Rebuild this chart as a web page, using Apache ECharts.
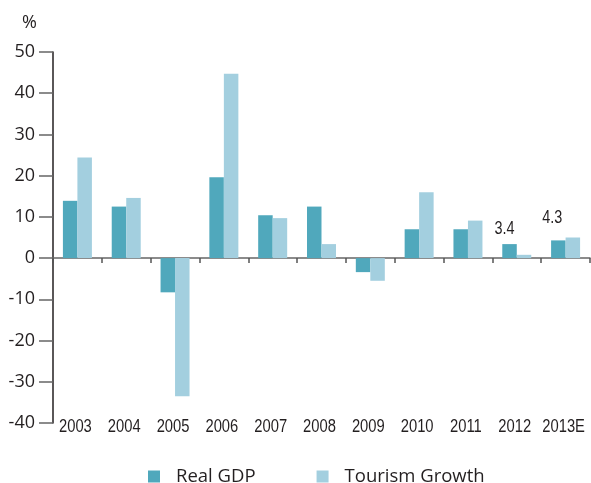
<!DOCTYPE html>
<html>
<head>
<meta charset="utf-8">
<script src="https://cdn.jsdelivr.net/npm/echarts@6/dist/echarts.min.js"></script>
<style>html,body{margin:0;padding:0;background:#fff}#c{width:591px;height:483px}</style>
</head>
<body>
<div id="c"></div>
<script>
var categories = ['2003','2004','2005','2006','2007','2008','2009','2010','2011','2012','2013E'];
var realGDP = [13.9, 12.5, -8.3, 19.6, 10.4, 12.5, -3.4, 7.0, 7.0, 3.4, 4.3];
var tourismGrowth = [24.4, 14.6, -33.5, 44.7, 9.7, 3.4, -5.5, 16.0, 9.1, 0.8, 5.0];
var seriesNames = ['Real GDP', 'Tourism Growth'];
var labeledGDP = [9, 10];

var narrowFont = '"Liberation Sans",Arial,sans-serif';
var regular = '"Open Sans","Noto Sans",sans-serif';
var BAR_W = 14.5;
var labelLift = {9: 15, 10: 22};
var labelShift = {9: -5, 10: -6};

var chart = echarts.init(document.getElementById('c'), null, {renderer: 'canvas'});
chart.setOption({
  animation: false,
  title: {text: '%', left: 17, top: 9, textStyle: {fontFamily: regular, fontSize: 18, fontWeight: 'normal', color: '#231f20'}},
  grid: {left: 53, right: 1, top: 52, bottom: 60},
  legend: {
    data: seriesNames, left: 143, top: 462, itemWidth: 12, itemHeight: 12, itemGap: 61,
    icon: 'rect',
    textStyle: {fontFamily: regular, fontSize: 18.5, color: '#231f20', padding: [0, 0, 0, 11]}
  },
  xAxis: {
    type: 'category', data: categories,
    axisLine: {onZero: true, lineStyle: {color: '#666', width: 1.5}},
    axisTick: {show: true, length: 5, lineStyle: {color: '#555', width: 1.5}},
    axisLabel: {show: false}
  },
  yAxis: {
    type: 'value', min: -40, max: 50, interval: 10,
    splitLine: {show: false},
    axisLine: {show: true, lineStyle: {color: '#231f20', width: 1.5}},
    axisTick: {show: true, length: 14, lineStyle: {color: '#666', width: 1.5}},
    axisLabel: {margin: 18, fontFamily: regular, fontSize: 18, color: '#231f20'}
  },
  series: [{
    name: seriesNames[0], type: 'bar', data: realGDP, barWidth: BAR_W, barGap: '0%',
    itemStyle: {color: '#50a8bc'}
  }, {
    name: seriesNames[1], type: 'bar', data: tourismGrowth, barWidth: BAR_W, barGap: '0%',
    itemStyle: {color: '#a3cfdf'}
  }]
});

// condensed-looking category labels and value labels, positioned through the axes
var graphics = [];
var axisBottomY = chart.convertToPixel({yAxisIndex: 0}, -40);
categories.forEach(function (c, i) {
  var cx = chart.convertToPixel({xAxisIndex: 0}, c);
  graphics.push({
    type: 'text', x: cx - 2, y: axisBottomY + 4.5, scaleX: 0.82, silent: true,
    style: {text: c, fontFamily: narrowFont, fontSize: 18, fill: '#231f20', align: 'center', verticalAlign: 'middle'}
  });
});
labeledGDP.forEach(function (i) {
  var cx = chart.convertToPixel({xAxisIndex: 0}, categories[i]) - BAR_W / 2 + labelShift[i];
  var vy = chart.convertToPixel({yAxisIndex: 0}, realGDP[i]) - labelLift[i];
  graphics.push({
    type: 'text', x: cx, y: vy, scaleX: 0.78, silent: true,
    style: {text: realGDP[i].toFixed(1), fontFamily: narrowFont, fontSize: 18.5, fill: '#231f20', align: 'center', verticalAlign: 'middle'}
  });
});
chart.setOption({graphic: graphics});
</script>
</body>
</html>
